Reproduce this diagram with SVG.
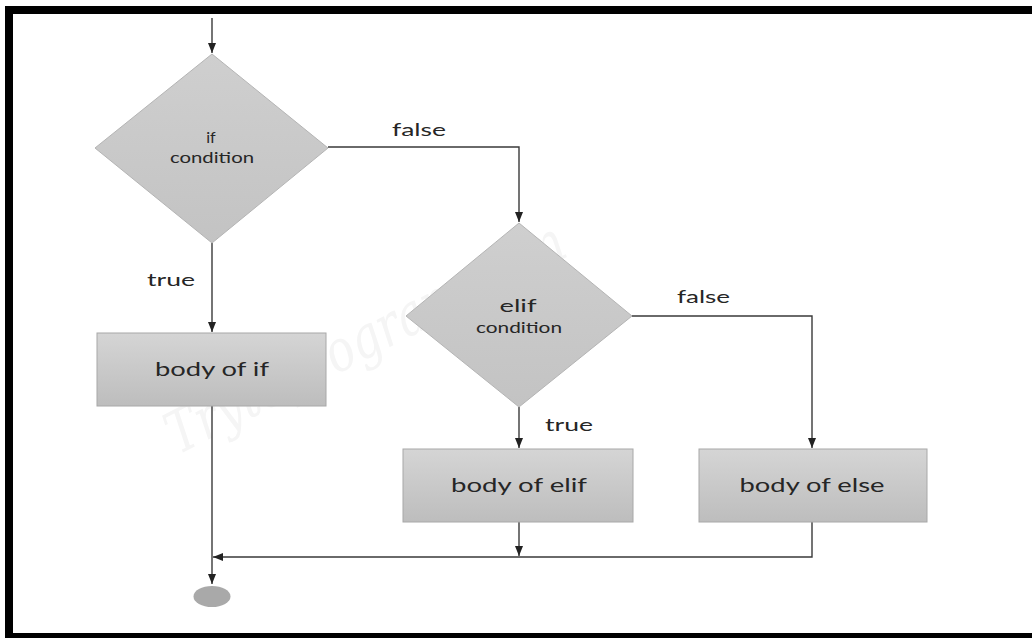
<svg xmlns="http://www.w3.org/2000/svg" width="1032" height="638" viewBox="0 0 1032 638">
<style>
.dia{stroke:#b4b4b4;stroke-width:1}
.box{stroke:#a8a8a8;stroke-width:1}
.con{fill:none;stroke:#3a3a3a;stroke-width:1.4}
.t{font-family:Lato,"Open Sans",sans-serif;fill:#262626;text-anchor:middle}
.lbl{font-family:Lato,"Open Sans",sans-serif;fill:#262626;font-size:18px}
.wm{font-family:"DejaVu Serif",serif;font-style:italic;font-size:58px;fill:#f5f5f5}
</style>
<defs>
<linearGradient id="gd" x1="0" y1="0" x2="0" y2="1">
<stop offset="0" stop-color="#cfcfcf"/>
<stop offset="1" stop-color="#c3c3c3"/>
</linearGradient>
<linearGradient id="gb" x1="0" y1="0" x2="0" y2="1">
<stop offset="0" stop-color="#d5d5d5"/>
<stop offset="1" stop-color="#bdbdbd"/>
</linearGradient>
<marker id="ah" markerUnits="userSpaceOnUse" markerWidth="10" markerHeight="10" viewBox="0 0 10 10" refX="10" refY="5" orient="auto">
<path d="M0,1 L10,5 L0,9 Z" fill="#222"/>
</marker>
</defs>
<rect width="1032" height="638" fill="#fff"/>
<g id="frame">
<rect x="5" y="6" width="1027" height="8" fill="#000"/>
<rect x="5" y="6" width="8" height="632" fill="#000"/>
<rect x="5" y="633" width="1027" height="5" fill="#000"/>
</g>
<text class="wm" transform="translate(178,455) rotate(-27)" textLength="440" lengthAdjust="spacingAndGlyphs">Trytoprogram.com</text>
<g id="connectors">
<path class="con" d="M212,18 V53" marker-end="url(#ah)"/>
<path class="con" d="M328,147 H519 V222" marker-end="url(#ah)"/>
<path class="con" d="M212,243 V332" marker-end="url(#ah)"/>
<path class="con" d="M632,316 H812 V448" marker-end="url(#ah)"/>
<path class="con" d="M519,407 V448" marker-end="url(#ah)"/>
<path class="con" d="M212,406 V584" marker-end="url(#ah)"/>
<path class="con" d="M519,522 V556" marker-end="url(#ah)"/>
<path class="con" d="M812,522 V557 H213" marker-end="url(#ah)"/>
</g>
<g id="if-condition">
<polygon class="dia" fill="url(#gd)" points="212,54 328,148 212,243 95,148"/>
<text class="t" x="211" y="143" font-size="16">if</text>
<text class="t" x="212" y="163" font-size="15" textLength="84" lengthAdjust="spacingAndGlyphs">condition</text>
</g>
<g id="elif-condition">
<polygon class="dia" fill="url(#gd)" points="519,223 632,316 519,407 406,316"/>
<text class="t" x="518" y="312" font-size="18" textLength="37" lengthAdjust="spacingAndGlyphs">elif</text>
<text class="t" x="519" y="333" font-size="15" textLength="86" lengthAdjust="spacingAndGlyphs">condition</text>
</g>
<g id="body-of-if">
<rect class="box" fill="url(#gb)" x="97" y="333" width="229" height="73"/>
<text class="t" x="212" y="376" font-size="20" textLength="114" lengthAdjust="spacingAndGlyphs">body of if</text>
</g>
<g id="body-of-elif">
<rect class="box" fill="url(#gb)" x="403" y="449" width="230" height="73"/>
<text class="t" x="519" y="492" font-size="20" textLength="136" lengthAdjust="spacingAndGlyphs">body of elif</text>
</g>
<g id="body-of-else">
<rect class="box" fill="url(#gb)" x="699" y="449" width="228" height="73"/>
<text class="t" x="812" y="492" font-size="20" textLength="145" lengthAdjust="spacingAndGlyphs">body of else</text>
</g>
<g id="end">
<ellipse cx="212" cy="596.5" rx="18.5" ry="10.5" fill="#a9a9a9"/>
</g>
<g id="labels">
<text class="lbl" x="392" y="136" textLength="54" lengthAdjust="spacingAndGlyphs">false</text>
<text class="lbl" x="147" y="286" textLength="48" lengthAdjust="spacingAndGlyphs">true</text>
<text class="lbl" x="677" y="303" textLength="53" lengthAdjust="spacingAndGlyphs">false</text>
<text class="lbl" x="545" y="431" textLength="48" lengthAdjust="spacingAndGlyphs">true</text>
</g>
</svg>
